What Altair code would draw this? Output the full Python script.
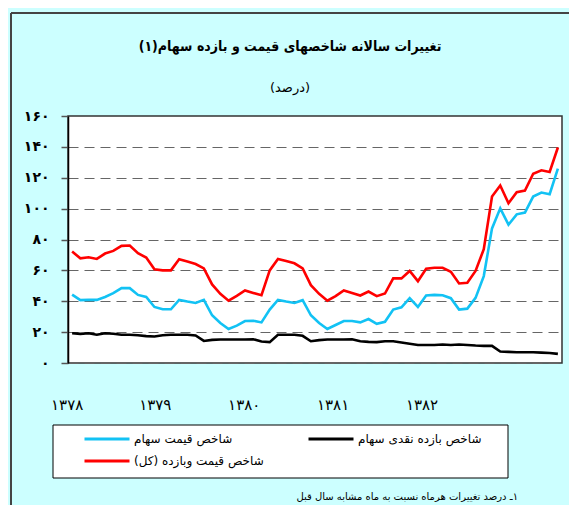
import json
import altair as alt
import pandas as pd

RLM = "\u200f"

# ---------------- data ----------------
series_names = ["شاخص قیمت سهام", "شاخص بازده نقدی سهام", "شاخص قیمت وبازده (کل)" + RLM]
series_colors = ["#12c2f4", "#000000", "#ff0000"]

price_index = [44.3, 40.7, 40.9, 40.9, 42.8, 45.2, 48.5, 48.5, 44.1, 42.8,
               36.3, 34.8, 34.8, 40.9, 39.8, 38.9, 40.9, 30.9, 25.9, 22.0,
               24.2, 27.2, 27.4, 26.3, 34.6, 40.9, 39.8, 38.9, 40.7, 30.9,
               25.9, 22.0, 24.6, 27.2, 27.2, 26.3, 28.5, 25.4, 26.7, 34.6,
               36.1, 42.0, 36.3, 43.7, 44.1, 43.9, 42.0, 34.6, 35.2, 42.2,
               56.3, 87.2, 100.2, 89.6, 96.3, 97.4, 107.8, 110.4, 109.3, 125.9]

dividend_index = [19.3, 18.9, 19.3, 18.3, 19.3, 18.9, 18.3, 18.3, 18.0, 17.4,
                  17.2, 18.0, 18.3, 18.3, 18.3, 17.8, 14.3, 15.0, 15.2, 15.2,
                  15.2, 15.2, 15.4, 13.9, 13.5, 18.3, 18.3, 18.3, 17.6, 14.1,
                  14.8, 15.2, 15.2, 15.2, 15.4, 14.1, 13.7, 13.5, 14.1, 14.1,
                  13.3, 12.5, 11.7, 11.7, 11.7, 12.0, 11.7, 12.0, 11.7, 11.3,
                  11.1, 11.1, 7.4, 7.2, 7.0, 7.0, 7.0, 6.7, 6.5, 5.9]

total_index = [72.2, 67.8, 68.5, 67.4, 70.9, 72.6, 75.9, 76.1, 71.1, 68.3,
               60.7, 60.0, 60.0, 67.2, 65.7, 64.1, 61.3, 50.9, 44.8, 40.4,
               43.5, 47.0, 45.4, 43.9, 60.0, 67.4, 66.1, 64.6, 61.3, 50.4,
               44.8, 40.4, 43.3, 47.0, 45.4, 43.7, 46.3, 43.3, 45.0, 54.8,
               54.8, 59.6, 53.0, 61.1, 61.7, 61.7, 59.1, 51.5, 52.0, 59.6,
               73.7, 107.8, 115.0, 103.5, 110.7, 111.7, 122.6, 124.8, 123.7, 139.6]

year_labels = ["۱۳۷۸", "۱۳۷۹", "۱۳۸۰", "۱۳۸۱", "۱۳۸۲"]
year_label_month = [-0.1, 10.6, 21.4, 32.2, 43.0]

y_tick_labels = ["۰", "۲۰", "۴۰", "۶۰", "۸۰", "۱۰۰", "۱۲۰", "۱۴۰", "۱۶۰"]

title_text = RLM + "تغییرات سالانه شاخصهای قیمت و بازده سهام(۱)" + RLM
subtitle_text = RLM + "(درصد)" + RLM
footnote_text = RLM + "۱ـ درصد تغییرات هرماه نسبت به ماه مشابه سال قبل"

FONT = "DejaVu Sans"
FONT_C = "DejaVu Sans Condensed, DejaVu Sans"

# ---------------- tables ----------------
n = len(price_index)


def series_table(names, values_list):
    rows = []
    for name, vals in zip(names, values_list):
        for i, v in enumerate(vals):
            rows.append({"month": i + 0.5, "value": v, "series": name})
    return pd.DataFrame(rows)


df_row1 = series_table(series_names[:2], [price_index, dividend_index])
df_row2 = series_table(series_names[2:], [total_index])
years_df = pd.DataFrame({"month": year_label_month, "year": year_labels})
one = alt.Data(values=[{}])

W, H = 494, 247
xscale = alt.Scale(domain=[0, n], nice=False, zero=False)
yscale = alt.Scale(domain=[0, 160], nice=False)

x_enc = alt.X("month:Q", scale=xscale,
              axis=alt.Axis(values=list(range(n + 1)), labels=False, title=None, grid=False,
                            tickSize=7, tickColor="#666666", tickWidth=1.5,
                            domainColor="#000000", domainWidth=1.5))
y_enc = alt.Y("value:Q", scale=yscale,
              axis=alt.Axis(values=list(range(0, 161, 20)), title=None,
                            labelExpr=json.dumps(y_tick_labels, ensure_ascii=False) + "[round(datum.value / 20)]",
                            labelFont=FONT, labelFontSize=14, labelFontWeight="bold",
                            labelColor="#000000", labelPadding=12,
                            tickSize=7, tickColor="#555555", tickWidth=1.5,
                            domainColor="#000000", domainWidth=1.5,
                            grid=True, gridDash=[10, 6], gridColor="#666666", gridWidth=1.2))

legend_common = dict(title=None, orient="none", padding=0, direction="horizontal",
                     symbolType="stroke", symbolSize=2025, symbolStrokeWidth=3,
                     labelFont=FONT, labelFontSize=12, labelColor="#000000", labelOffset=3)

lines_row1 = alt.Chart(df_row1).mark_line(strokeWidth=2.6, strokeJoin="miter").encode(
    x=x_enc, y=y_enc,
    color=alt.Color("series:N", sort=series_names[:2],
                    scale=alt.Scale(domain=series_names[:2], range=series_colors[:2]),
                    legend=alt.Legend(legendX=15, legendY=299, columnPadding=69, **legend_common)),
)

lines_row2 = alt.Chart(df_row2).mark_line(strokeWidth=2.6, strokeJoin="miter").encode(
    x=x_enc, y=y_enc,
    color=alt.Color("series:N",
                    scale=alt.Scale(domain=series_names[2:], range=series_colors[2:]),
                    legend=alt.Legend(legendX=15, legendY=321, **legend_common)),
)

years = alt.Chart(years_df).mark_text(font=FONT, fontSize=15, color="#000000", baseline="middle").encode(
    x=alt.X("month:Q", scale=xscale, axis=None),
    y=alt.value(289),
    text="year:N",
)

frame_top = alt.Chart(one).mark_rule(color="#444444", strokeWidth=2).encode(
    x=alt.value(-57), x2=alt.value(W + 20), y=alt.value(-103))
frame_left = alt.Chart(one).mark_rule(color="#444444", strokeWidth=2).encode(
    x=alt.value(-57), y=alt.value(-103), y2=alt.value(400))

legend_box = alt.Chart(one).mark_rect(fill="white", stroke="#000000", strokeWidth=1).encode(
    x=alt.value(-15), x2=alt.value(440), y=alt.value(309), y2=alt.value(362))

title_mark = alt.Chart(one).mark_text(font=FONT_C, fontSize=14, fontWeight="bold", align="center",
                                      baseline="middle", color="#000000").encode(
    x=alt.value(222), y=alt.value(-69), text=alt.value(title_text))

subtitle_mark = alt.Chart(one).mark_text(font=FONT, fontSize=13, align="center",
                                         baseline="middle", color="#000000").encode(
    x=alt.value(222), y=alt.value(-28), text=alt.value(subtitle_text))

footnote = alt.Chart(one).mark_text(font=FONT, fontSize=10, align="right", baseline="middle",
                                    color="#000000").encode(
    x=alt.value(450), y=alt.value(381), text=alt.value(footnote_text))

chart = alt.layer(frame_top, frame_left, legend_box, lines_row1, lines_row2, years, title_mark,
                  subtitle_mark, footnote).resolve_scale(color="independent").properties(
    width=W, height=H,
    autosize=alt.AutoSizeParams(type="none"),
    padding={"left": 60, "top": 108, "right": 7, "bottom": 142},
    background="#ccffff",
).configure_view(fill="white", stroke="#333333", strokeWidth=1.5)

chart.save("out.html", embed_options={"renderer": "svg", "actions": False})
